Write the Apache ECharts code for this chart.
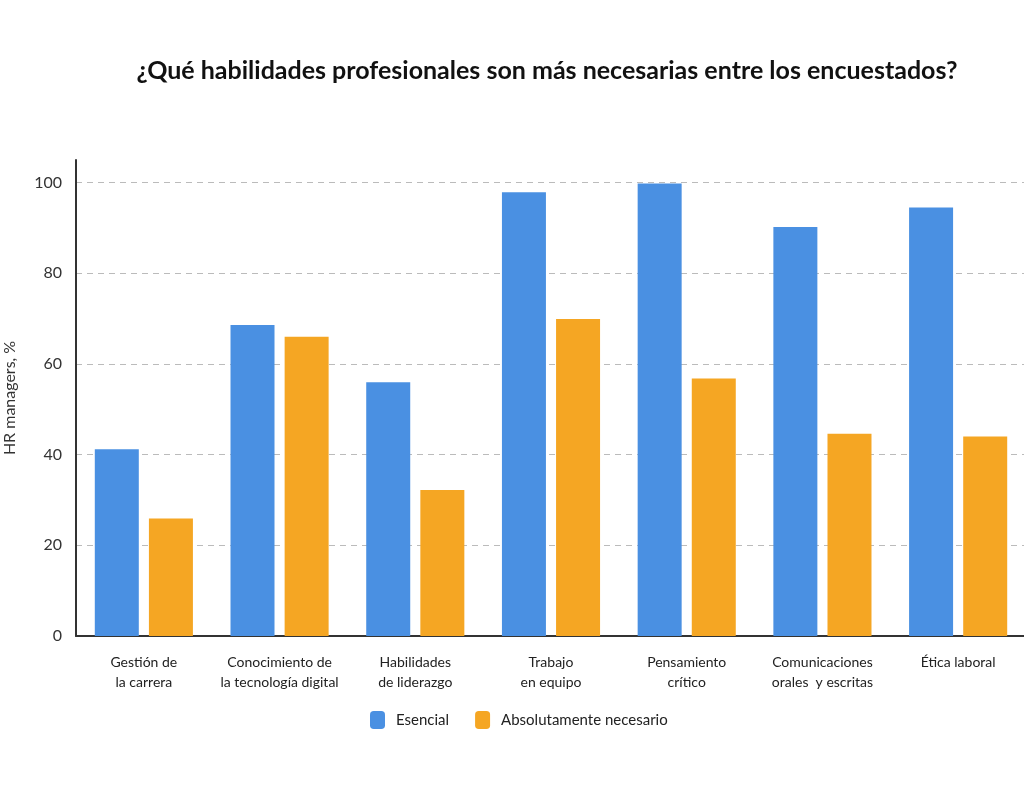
<!DOCTYPE html>
<html>
<head>
<meta charset="utf-8">
<script src="https://cdn.jsdelivr.net/npm/echarts@6/dist/echarts.min.js"></script>
<style>
  html, body { margin: 0; padding: 0; background: #fff; }
  #chart { width: 1024px; height: 785px; }
</style>
</head>
<body>
<div id="chart"></div>
<script>
// datos del gráfico
var categorias = [
  'Gestión de\nla carrera',
  'Conocimiento de\nla tecnología digital',
  'Habilidades\nde liderazgo',
  'Trabajo\nen equipo',
  'Pensamiento\ncrítico',
  'Comunicaciones\norales  y escritas',
  'Ética laboral'
];
var esencial = [41.2, 68.6, 56, 97.9, 99.8, 90.2, 94.5];
var absolutamente = [25.9, 66.0, 32.2, 69.9, 56.8, 44.6, 44.0];
var nombresSeries = ['Esencial', 'Absolutamente necesario'];

var el = document.getElementById('chart');
var myChart = echarts.init(el, null, { renderer: 'canvas' });

var fuente = 'Lato, "Open Sans", sans-serif';

var option = {
  backgroundColor: '#fff',
  animation: false,
  title: {
    text: '¿Qué habilidades profesionales son más necesarias entre los encuestados?',
    left: 542,
    top: 53,
    textAlign: 'center',
    textStyle: { fontFamily: fuente, fontSize: 25, fontWeight: 'bold', color: '#111' }
  },
  legend: {
    data: nombresSeries,
    left: 365,
    top: 706,
    itemWidth: 15,
    itemHeight: 18,
    itemGap: 26,
    icon: 'roundRect',
    textStyle: { fontFamily: fuente, fontSize: 15, color: '#222', padding: [0, 0, 0, 6] }
  },
  grid: {
    left: 76, right: -2, top: 160, bottom: 149,
    containLabel: false,
    outerBoundsMode: 'none'
  },
  xAxis: {
    type: 'category',
    data: categorias,
    axisLine: { lineStyle: { color: '#333', width: 2 } },
    axisTick: { show: false },
    axisLabel: {
      interval: 0,
      margin: 16,
      fontFamily: fuente,
      fontSize: 14,
      lineHeight: 20,
      color: '#222'
    }
  },
  yAxis: {
    type: 'value',
    min: 0,
    max: 105,
    interval: 20,
    name: 'HR managers, %',
    nameLocation: 'middle',
    nameGap: 58,
    nameTextStyle: { fontFamily: fuente, fontSize: 16, color: '#333' },
    axisLine: { show: true, lineStyle: { color: '#333', width: 2 } },
    axisTick: { show: false },
    axisLabel: {
      showMaxLabel: false,
      margin: 14,
      fontFamily: fuente,
      fontSize: 16,
      color: '#333'
    },
    splitLine: {
      lineStyle: {
        type: [6, 5],
        width: 1,
        color: ['#bbb', '#bbb', '#bbb', '#bbb', '#bbb', '#bbb', 'rgba(0,0,0,0)']
      }
    }
  },
  series: [
    {
      name: nombresSeries[0],
      type: 'bar',
      data: esencial,
      barWidth: 44,
      barGap: '23%',
      itemStyle: { color: '#4A90E2' }
    },
    {
      name: nombresSeries[1],
      type: 'bar',
      data: absolutamente,
      barWidth: 44,
      itemStyle: { color: '#F5A623' }
    }
  ]
};

myChart.setOption(option, true);
</script>
</body>
</html>
